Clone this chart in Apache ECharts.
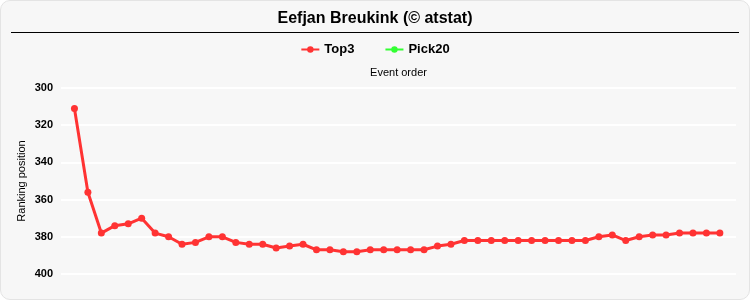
<!DOCTYPE html>
<html>
<head>
<meta charset="utf-8">
<script src="https://cdn.jsdelivr.net/npm/echarts@6/dist/echarts.min.js"></script>
<style>
html,body{margin:0;padding:0;background:#fff;}
#wrap{position:absolute;left:0;top:0;width:748px;height:298px;border:1px solid #e4e4e4;border-radius:10px;background:#f7f7f7;overflow:hidden;}
#chart{width:748px;height:298px;}
</style>
</head>
<body>
<div id="wrap"><div id="chart"></div></div>
<script>
var titleText = 'Eefjan Breukink (© atstat)';
var events = [1,2,3,4,5,6,7,8,9,10,11,12,13,14,15,16,17,18,19,20,21,22,23,24,25,26,27,28,29,30,31,32,33,34,35,36,37,38,39,40,41,42,43,44,45,46,47,48,49];
var top3 = [311,356,378,374,373,370,378,380,384,383,380,380,383,384,384,386,385,384,387,387,388,388,387,387,387,387,387,385,384,382,382,382,382,382,382,382,382,382,382,380,379,382,380,379,379,378,378,378,378];
var pick20 = [];
var yTicks = [300,320,340,360,380,400];

var chart = echarts.init(document.getElementById('chart'), null, {renderer:'canvas'});
var font = 'Liberation Sans, Arial, sans-serif';
chart.setOption({
  backgroundColor: 'transparent',
  animation: false,
  textStyle: {fontFamily: font},
  title: {
    text: titleText, left: 'center', top: 5,
    textStyle: {fontSize: 16, fontWeight: 'bold', color: '#000', fontFamily: font}
  },
  graphic: [{
    type: 'line', shape: {x1: 10, y1: 31.5, x2: 738, y2: 31.5},
    style: {stroke: '#000', lineWidth: 1}
  }],
  legend: {
    top: 37, left: 'center', itemGap: 30, itemWidth: 18, itemHeight: 8,
    textStyle: {fontSize: 13, fontWeight: 'bold', color: '#000', fontFamily: font},
    data: ['Top3', 'Pick20']
  },
  grid: {left: 60, right: 13, top: 87, bottom: 25, containLabel: false},
  xAxis: {
    type: 'value', position: 'top', min: 0, max: 50.2,
    name: 'Event order', nameLocation: 'middle', nameGap: 10,
    nameTextStyle: {fontSize: 11, color: '#000', fontFamily: font},
    axisLine: {show: false}, axisTick: {show: false}, axisLabel: {show: false}, splitLine: {show: false}
  },
  yAxis: {
    type: 'value', inverse: true, min: yTicks[0], max: yTicks[yTicks.length-1], interval: 20,
    name: 'Ranking position', nameLocation: 'middle', nameGap: 34, nameRotate: 90,
    nameMoveOverlap: false,
    nameTextStyle: {fontSize: 11, color: '#000', fontFamily: font},
    axisLine: {show: false}, axisTick: {show: false},
    axisLabel: {fontSize: 11, fontWeight: 'bold', color: '#000', margin: 8, fontFamily: font},
    splitLine: {show: true, lineStyle: {color: '#ffffff', width: 2}}
  },
  series: [
    {
      name: 'Top3', type: 'line',
      data: events.map(function(e, i){ return [e, top3[i]]; }),
      symbol: 'circle', symbolSize: 7,
      lineStyle: {color: '#ff3333', width: 3},
      itemStyle: {color: '#ff3333'}
    },
    {
      name: 'Pick20', type: 'line',
      data: pick20,
      symbol: 'circle', symbolSize: 7,
      lineStyle: {color: '#33ff33', width: 3},
      itemStyle: {color: '#33ff33'}
    }
  ]
});
</script>
</body>
</html>
